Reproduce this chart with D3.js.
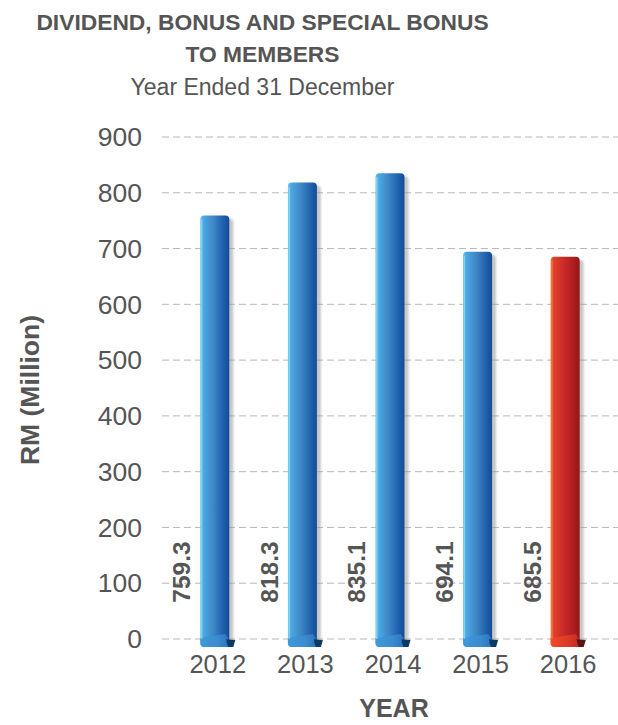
<!DOCTYPE html>
<html>
<head>
<meta charset="utf-8">
<script src="https://cdn.jsdelivr.net/npm/d3@7/dist/d3.min.js"></script>
<style>
  html, body { margin: 0; padding: 0; background: #fff; }
  svg { display: block; font-family: "Liberation Sans", Arial, sans-serif; }
</style>
</head>
<body>
<svg id="chart" width="618" height="725"></svg>
<script>
const years = ["2012", "2013", "2014", "2015", "2016"];
const values = [759.3, 818.3, 835.1, 694.1, 685.5];
const yTicks = [0, 100, 200, 300, 400, 500, 600, 700, 800, 900];
const titleLines = ["DIVIDEND, BONUS AND SPECIAL BONUS", "TO MEMBERS"];
const subtitle = "Year Ended 31 December";
const yTitle = "RM (Million)";
const xTitle = "YEAR";
const highlightYear = "2016";

const svg = d3.select("#chart");
const textColor = "#555";

const x = d3.scalePoint().domain(years).range([171, 609]).padding(0.5);
const y = d3.scaleLinear().domain([0, 900]).range([639, 137]);
const barW = 29;

const defs = svg.append("defs");
function grad(id, stops) {
  const g = defs.append("linearGradient").attr("id", id)
    .attr("x1", "0%").attr("x2", "100%").attr("y1", "0%").attr("y2", "0%");
  stops.forEach(s => g.append("stop").attr("offset", s[0]).attr("stop-color", s[1]));
}
grad("gBlue", [["0%", "#63c2ef"], ["12%", "#4aa8e0"], ["45%", "#3e86c4"], ["80%", "#1f5fad"], ["100%", "#134c95"]]);
grad("gRed", [["0%", "#f35a2c"], ["12%", "#e0402a"], ["45%", "#c9292a"], ["80%", "#ad1d1f"], ["100%", "#8f1719"]]);
grad("gBlueFold", [["0%", "#3f9ad9"], ["60%", "#3a8bd0"], ["100%", "#2b73bd"]]);
grad("gRedFold", [["0%", "#ef4a27"], ["60%", "#db3a26"], ["100%", "#c02a22"]]);
const blur = defs.append("filter").attr("id", "shadowBlur").attr("x", "-20%").attr("y", "-20%").attr("width", "140%").attr("height", "140%");
blur.append("feGaussianBlur").attr("stdDeviation", 1);

// Titles
svg.selectAll("text.title").data(titleLines).join("text")
  .attr("class", "title")
  .attr("x", 262.5).attr("y", (d, i) => 29.5 + i * 32.3)
  .attr("text-anchor", "middle").attr("font-weight", "bold")
  .attr("font-size", "22.8px").attr("fill", textColor).text(d => d);
svg.append("text").attr("x", 262.5).attr("y", 95)
  .attr("text-anchor", "middle").attr("font-size", "23px")
  .attr("fill", textColor).text(subtitle);

// Gridlines
svg.append("g").selectAll("line").data(yTicks).join("line")
  .attr("x1", 162).attr("x2", 618)
  .attr("y1", d => y(d)).attr("y2", d => y(d))
  .attr("stroke", "#b8b8b8").attr("stroke-width", 1)
  .attr("stroke-dasharray", "7,4");

// Y tick labels
svg.append("g").selectAll("text").data(yTicks).join("text")
  .attr("x", 142).attr("y", d => y(d)).attr("dy", "0.35em")
  .attr("text-anchor", "end").attr("font-size", "26.5px")
  .attr("fill", textColor).text(d => d);

// Bars
function topRounded(x0, y0, w, yb, r) {
  return `M${x0},${yb - r} L${x0},${y0 + r} Q${x0},${y0} ${x0 + r},${y0} L${x0 + w - r},${y0} Q${x0 + w},${y0} ${x0 + w},${y0 + r} L${x0 + w},${yb} L${x0 + r},${yb} Q${x0},${yb} ${x0},${yb - r} Z`;
}
const data = years.map((yr, i) => ({ year: yr, value: values[i], hi: yr === highlightYear }));
const bars = svg.append("g").selectAll("g").data(data).join("g");
const base = y(0);
bars.append("path")
  .attr("d", d => topRounded(x(d.year) - barW / 2 + 4, y(d.value) + 3, barW, base + 6, 4))
  .attr("fill", "#9a9a9a").attr("opacity", 0.55).attr("filter", "url(#shadowBlur)");
bars.append("path")
  .attr("d", d => topRounded(x(d.year) - barW / 2, y(d.value), barW, base + 8, 4))
  .attr("fill", d => d.hi ? "url(#gRed)" : "url(#gBlue)");
// bottom fold (lighter strip)
bars.append("path")
  .attr("d", d => {
    const l = x(d.year) - barW / 2, r = l + barW;
    return `M${l},${base - 1} L${r - 4},${base - 5} L${r},${base + 1} L${r},${base + 8} L${l + 4},${base + 8} Q${l},${base + 8} ${l},${base + 4} Z`;
  })
  .attr("fill", d => d.hi ? "url(#gRedFold)" : "url(#gBlueFold)");
// dark curl at right bottom
bars.append("path")
  .attr("d", d => {
    const r = x(d.year) + barW / 2;
    return `M${r - 3},${base} Q${r + 1},${base + 1} ${r + 6},${base + 1} L${r + 4},${base + 8} L${r - 1},${base + 8} Q${r - 3},${base + 4} ${r - 3},${base} Z`;
  })
  .attr("fill", d => d.hi ? "#5e1212" : "#0c3a66");
// left highlight
bars.append("rect")
  .attr("x", d => x(d.year) - barW / 2 + 0.5).attr("y", d => y(d.value) + 4)
  .attr("width", 1.5).attr("height", d => base - y(d.value) - 4)
  .attr("fill", d => d.hi ? "#ff7a4a" : "#8fd6f7").attr("opacity", 0.8);

// Value labels
bars.append("text")
  .attr("transform", d => `translate(${x(d.year) - 24.7},602.7) rotate(-90)`)
  .attr("text-anchor", "start").attr("font-weight", "bold")
  .attr("font-size", "24.5px").attr("fill", textColor)
  .text(d => d.value.toFixed(1));

// X labels
svg.append("g").selectAll("text").data(years).join("text")
  .attr("x", d => x(d) + 3).attr("y", 672.5)
  .attr("text-anchor", "middle").attr("font-size", "25.5px")
  .attr("fill", textColor).text(d => d);

// Axis titles
svg.append("text").attr("x", 394).attr("y", 717)
  .attr("text-anchor", "middle").attr("font-weight", "bold")
  .attr("font-size", "25px").attr("fill", textColor).text(xTitle);
svg.append("text").attr("transform", "translate(38.5,390) rotate(-90)")
  .attr("text-anchor", "middle").attr("font-weight", "bold")
  .attr("font-size", "26.5px").attr("fill", textColor).text(yTitle);
</script>
</body>
</html>
